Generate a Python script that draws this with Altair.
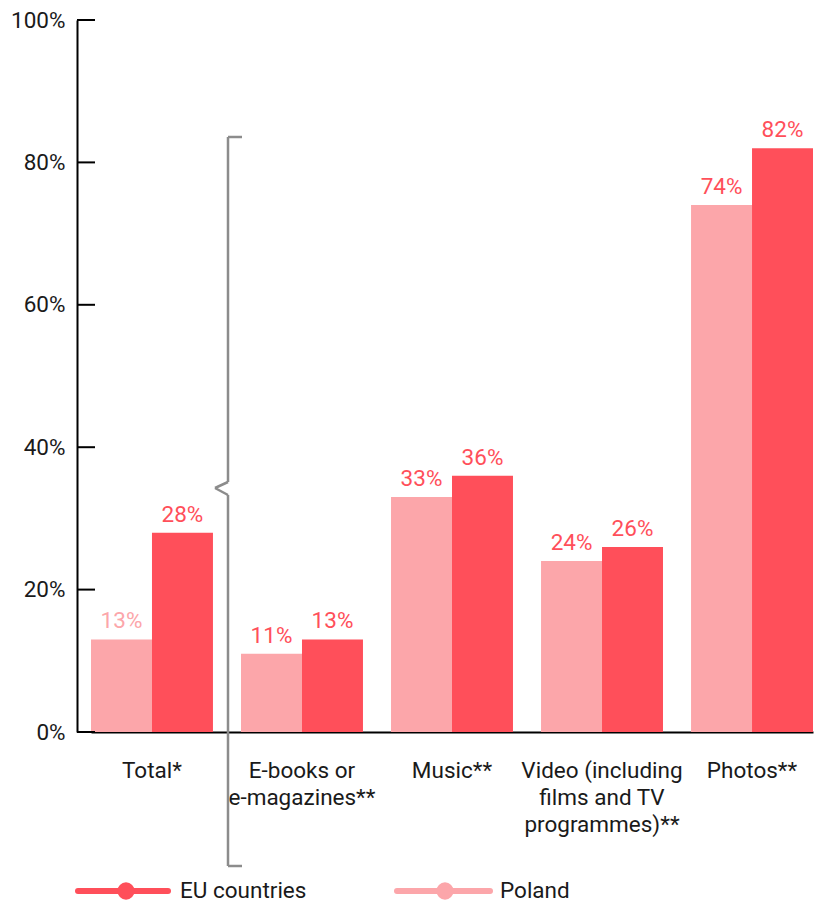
import altair as alt
import pandas as pd

categories = ["Total*", "E-books or\ne-magazines**", "Music**",
              "Video (including\nfilms and TV\nprogrammes)**", "Photos**"]
series = ["Poland", "EU countries"]
poland = [13, 11, 33, 24, 74]
eu = [28, 13, 36, 26, 82]
y_ticks = [0, 20, 40, 60, 80, 100]
legend_order = ["EU countries", "Poland"]

RED = "#ff4f5a"
PINK = "#fca6aa"
FONT = "Roboto"
FS = 22.5

rows = []
for c, p, e in zip(categories, poland, eu):
    rows.append({"category": c, "series": "Poland", "value": p})
    rows.append({"category": c, "series": "EU countries", "value": e})
df = pd.DataFrame(rows)

W, H = 742, 712

x = alt.X("category:N", sort=categories,
          scale=alt.Scale(paddingInner=0.187, paddingOuter=0, range=[14, 736]),
          axis=alt.Axis(title=None, labelAngle=0, tickSize=0, labelPadding=27,
                        labelFont=FONT, labelFontSize=FS, labelColor="#1a1a1a",
                        labelLineHeight=27, labelBaseline="top",
                        labelExpr="split(datum.label, '\\n')",
                        domainColor="#000000", domainWidth=2))
xo = alt.XOffset("series:N", scale=alt.Scale(domain=series, paddingInner=0))
y = alt.Y("value:Q", scale=alt.Scale(domain=[0, 100], nice=False),
          axis=alt.Axis(title=None, values=y_ticks, tickSize=0, labelPadding=12,
                        labelFont=FONT, labelFontSize=FS, labelColor="#1a1a1a",
                        labelExpr="datum.value + '%'", grid=False,
                        domainColor="#000000", domainWidth=2))

base = alt.Chart(df)

bars = base.mark_bar().encode(
    x=x, xOffset=xo, y=y,
    color=alt.Color("series:N", scale=alt.Scale(domain=series, range=[PINK, RED]), legend=None),
)

labels = base.transform_calculate(
    lc=f"datum.category == '{categories[0]}' && datum.series == 'Poland' ? '{PINK}' : '{RED}'",
    txt="datum.value + '%'",
).mark_text(font=FONT, fontSize=FS, baseline="alphabetic", dy=-11).encode(
    x=alt.X("category:N", sort=categories), xOffset=xo, y="value:Q",
    text="txt:N", color=alt.Color("lc:N", scale=None),
)

tick_df = pd.DataFrame({"v": y_ticks})
ticks = alt.Chart(tick_df).mark_rule(color="#000000", strokeWidth=2).encode(
    y="v:Q", x=alt.value(0), x2=alt.value(18))

# bracket annotation
GRAY = "#8c8c8c"
def seg(x1, y1, x2, y2):
    return alt.Chart(tick_df.head(1)).mark_rule(color=GRAY, strokeWidth=2.5).encode(
        x=alt.value(x1), x2=alt.value(x2), y=alt.value(y1), y2=alt.value(y2))

bx = 151
bracket = [
    seg(bx, 117, bx + 14, 117),
    seg(bx, 117, bx, 462),
    seg(bx, 462, 138, 468),
    seg(138, 468, bx, 475),
    seg(bx, 475, bx, 846),
    seg(bx, 846, bx + 14, 846),
]

# legend
legend_layers = []
leg_pos = {"EU countries": (1, 91, 49, 103), "Poland": (320, 413, 368, 423)}
leg_col = {"EU countries": RED, "Poland": PINK}
ly = 871
for s in legend_order:
    x1, x2, cx, tx = leg_pos[s]
    one = pd.DataFrame({"series": [s]})
    legend_layers.append(alt.Chart(one).mark_rule(color=leg_col[s], strokeWidth=6, strokeCap="round").encode(
        x=alt.value(x1), x2=alt.value(x2), y=alt.value(ly)))
    legend_layers.append(alt.Chart(one).mark_circle(color=leg_col[s], opacity=1, size=300).encode(
        x=alt.value(cx), y=alt.value(ly)))
    legend_layers.append(alt.Chart(one).mark_text(font=FONT, fontSize=FS, color="#1a1a1a",
                                                  align="left", baseline="middle").encode(
        x=alt.value(tx), y=alt.value(ly), text="series:N"))

chart = alt.layer(bars, labels, ticks, *bracket, *legend_layers).properties(
    width=W, height=H,
    autosize=alt.AutoSizeParams(type="none"),
    padding={"left": 69, "top": 12, "right": 0, "bottom": 173},
).configure_view(stroke=None)

chart.save("out.html", embed_options={"renderer": "svg", "actions": False})
